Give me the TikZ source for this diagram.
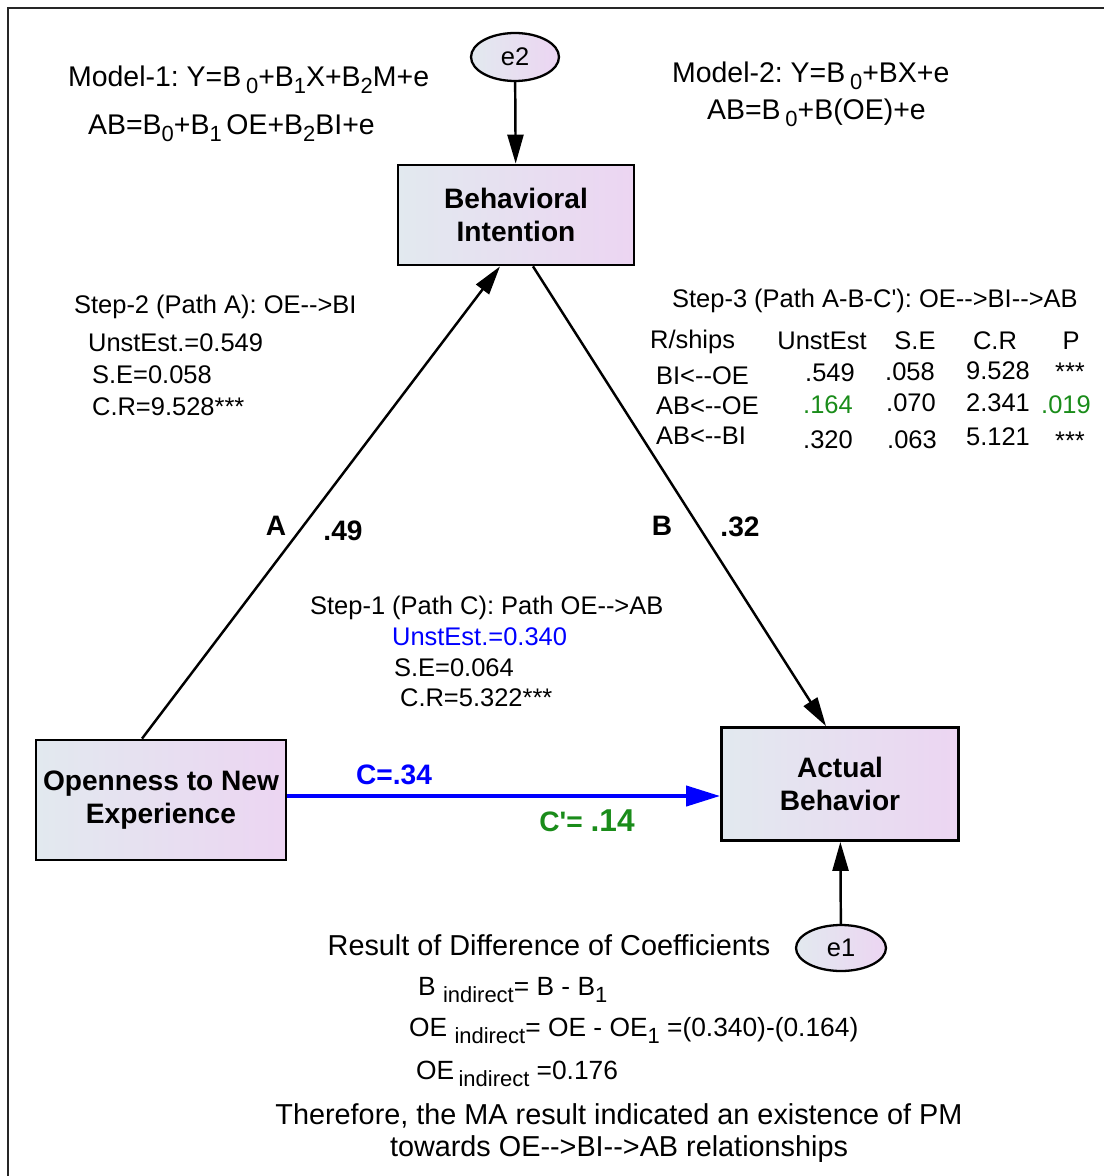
\documentclass[tikz,border=0pt]{standalone}
\usepackage{fontspec}
\setmainfont{Liberation Sans}
\usetikzlibrary{arrows.meta,shapes.geometric}
\frenchspacing

\definecolor{boxleft}{HTML}{E2E9EF}
\definecolor{boxright}{HTML}{ECD5F2}
\definecolor{pathgreen}{HTML}{1A8C1A}
\newcommand{\lowidx}[1]{\raisebox{-0.5ex}{\fontsize{12.5}{13}\selectfont #1}}
\newcommand{\dto}{-{}-{}>}
\newcommand{\dfrom}{<-{}-}

\begin{document}
\begin{tikzpicture}[
  x=0.02cm, y=-0.02cm,
  every node/.style={font=\fontsize{14.5}{17}\selectfont, inner sep=1pt},
  construct/.style={rectangle, draw=black, line width=1.6pt, left color=boxleft, right color=boxright,
                    font=\fontsize{16}{19}\selectfont\bfseries, align=center, inner sep=3pt},
  errterm/.style={ellipse, draw=black, line width=1.3pt, left color=boxleft, right color=boxright,
                  minimum width=1.76cm, minimum height=0.96cm, inner sep=0pt},
  txt/.style={anchor=west, align=left},
  eqn/.style={txt, font=\fontsize{16.2}{19}\selectfont},
  note/.style={font=\fontsize{16.4}{18.7}\selectfont, align=center},
  coef/.style={font=\fontsize{16}{19}\selectfont\bfseries},
  path/.style={line width=1.4pt, -{Triangle[length=0.58cm, width=0.32cm]}}
]
  \useasboundingbox (0,0) rectangle (1104,1176);
  \draw[line width=1.5pt, draw=black!85] (8,1176) -- (8,8) -- (1104,8);

  \node[construct, minimum width=4.72cm, minimum height=2cm] (bi) at (516,215) {Behavioral\\Intention};
  \node[construct, minimum width=5cm, minimum height=2.4cm] (oe) at (161,800) {Openness to New\\Experience};
  \node[construct, minimum width=4.74cm, minimum height=2.26cm] (ab) at (840,784) {Actual\\Behavior};
  \node[errterm] (e2) at (515,57) {e2};
  \node[errterm, minimum width=1.8cm, minimum height=0.92cm] (e1) at (841,948) {e1};

  \draw[path] (e2) -- (bi);
  \draw[path] ([xshift=-0.38cm]oe.north) -- ([xshift=-0.32cm]bi.south);
  \draw[path] ([xshift=0.34cm]bi.south) -- ([xshift=-0.28cm]ab.north);
  \draw[path, blue, line width=2.3pt, -{Triangle[length=0.68cm, width=0.4cm]}] (oe.east |- 0,796) -- (ab.west |- 0,796);
  \draw[path] (e1) -- (ab);

  \node[coef] (lblA) at (276,526) {A};
  \node[coef] (coefA) at (343,531) {.49};
  \node[coef] (lblB) at (662,526) {B};
  \node[coef] (coefB) at (740,527) {.32};
  \node[coef, text=blue] (coefC) at (394,775) {C=.34};
  \node[coef, text=pathgreen] (coefCp) at (587,821) {C\textquotesingle= {\fontsize{18}{20}\selectfont .14}};

  \node[eqn] (model1) at (66,80) {Model-1: Y=B\,\lowidx{0}+B\lowidx{1}X+B\lowidx{2}M+e};
  \node[eqn] (model1b) at (86,128) {AB=B\lowidx{0}+B\lowidx{1}\,OE+B\lowidx{2}BI+e};
  \node[eqn] (model2) at (670,76) {Model-2: Y=B\,\lowidx{0}+BX+e};
  \node[eqn] (model2b) at (705,113) {AB=B\,\lowidx{0}+B(OE)+e};

  \node[txt] (step2) at (72,307) {Step-2 (Path A): OE\dto BI};
  \node[txt] (step2a) at (86,343) {UnstEst.=0.549};
  \node[txt] (step2b) at (90,375) {S.E=0.058};
  \node[txt] (step2c) at (90,407) {C.R=9.528***};

  \node[txt] (step3) at (670,301) {Step-3 (Path A-B-C\textquotesingle): OE\dto BI\dto AB};
  \node[txt] (hdr1) at (648,342) {R/ships};
  \node (hdr2) at (822,341) {UnstEst};
  \node (hdr3) at (915,341) {S.E};
  \node (hdr4) at (995,341) {C.R};
  \node (hdr5) at (1071,341) {P};
  \node[txt] (r1a) at (654,376) {BI\dfrom OE};
  \node (r1b) at (830,373) {.549};
  \node (r1c) at (910,372) {.058};
  \node (r1d) at (998,371) {9.528};
  \node (r1e) at (1070,372) {***};
  \node[txt] (r2a) at (654,406) {AB\dfrom OE};
  \node[text=pathgreen] (r2b) at (828,405) {.164};
  \node (r2c) at (911,403) {.070};
  \node (r2d) at (998,403) {2.341};
  \node[text=pathgreen] (r2e) at (1066,405) {.019};
  \node[txt] (r3a) at (654,436) {AB\dfrom BI};
  \node (r3b) at (828,440) {.320};
  \node (r3c) at (912,440) {.063};
  \node (r3d) at (998,437) {5.121};
  \node (r3e) at (1070,441) {***};

  \node[txt] (step1) at (308,608) {Step-1 (Path C): Path OE\dto AB};
  \node[txt, text=blue] (step1a) at (390,637) {UnstEst.=0.340};
  \node[txt] (step1b) at (392,668) {S.E=0.064};
  \node[txt] (step1c) at (398,698) {C.R=5.322***};

  \node[note] (result) at (549,945) {Result of Difference of Coefficients};
  \node[txt, font=\fontsize{15}{18}\selectfont] (bind) at (416,990) {B \lowidx{indirect}= B - B\lowidx{1}};
  \node[txt, font=\fontsize{15}{18}\selectfont] (oeind) at (407,1031) {OE \lowidx{indirect}= OE - OE\lowidx{1} =(0.340)-(0.164)};
  \node[txt, font=\fontsize{15}{18}\selectfont] (oeval) at (414,1074) {OE\,\lowidx{indirect} =0.176};
  \node[note] (concl) at (619,1133) {Therefore, the MA result indicated an existence of PM\\towards OE\dto BI\dto AB relationships};
\end{tikzpicture}
\end{document}
